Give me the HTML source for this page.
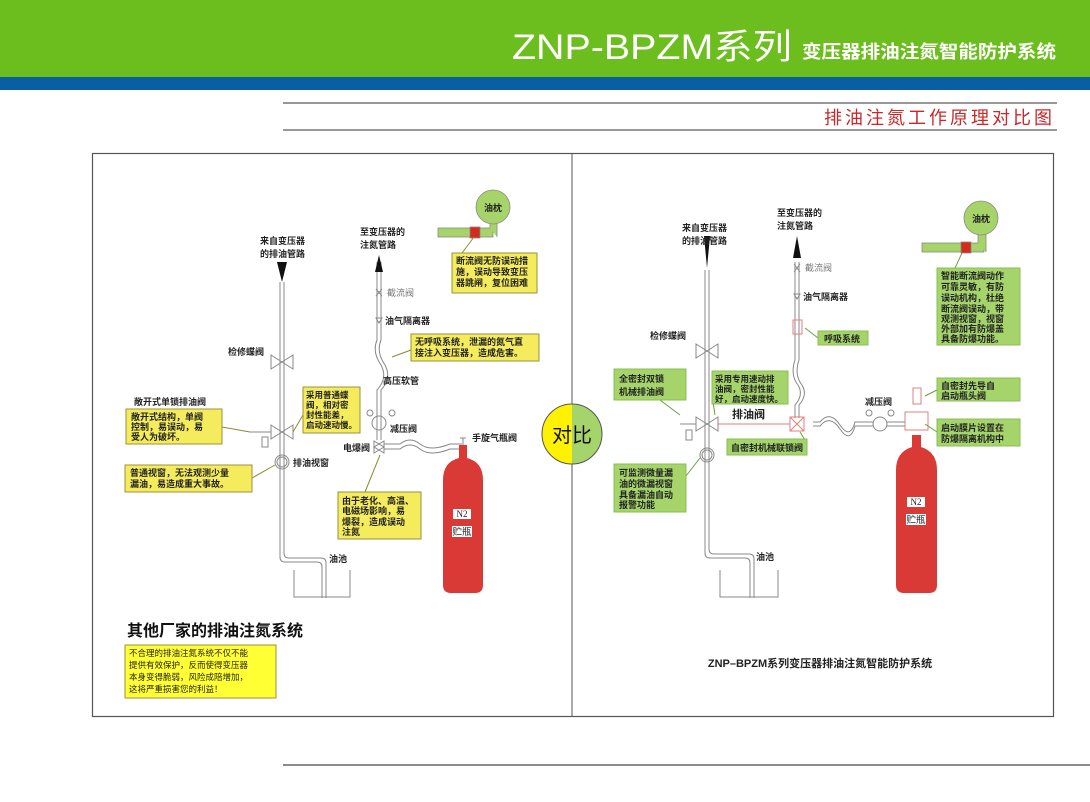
<!DOCTYPE html>
<html><head><meta charset="utf-8"><style>
html,body{margin:0;padding:0;background:#fff}
svg{display:block}
text{font-family:"Liberation Sans","Noto Sans CJK SC",sans-serif;fill:#222}
.s{font-size:9px;font-weight:bold}
.b{font-size:9.5px}
</style></head><body>
<svg width="1090" height="802" viewBox="0 0 1090 802" xmlns="http://www.w3.org/2000/svg">
<rect x="0" y="0" width="1090" height="77" fill="#6cbd1e"/>
<rect x="0" y="77" width="1090" height="13" fill="#0a5fa3"/>
<text x="512" y="59" textLength="280" lengthAdjust="spacingAndGlyphs" style="font-size:35px;fill:#fff">ZNP-BPZM系列</text>
<text x="802" y="58" textLength="254" lengthAdjust="spacingAndGlyphs" style="font-size:18px;fill:#fff;font-weight:bold">变压器排油注氮智能防护系统</text>
<line x1="283" y1="103" x2="1057" y2="103" stroke="#777" stroke-width="1.5"/>
<text x="1055" y="124" text-anchor="end" style="font-size:18px;fill:#c8282a;letter-spacing:3px">排油注氮工作原理对比图</text>
<line x1="283" y1="130" x2="1057" y2="130" stroke="#777" stroke-width="1.5"/>
<rect x="92.5" y="153.5" width="961" height="563" fill="none" stroke="#555" stroke-width="1.2"/>
<line x1="572" y1="153" x2="572" y2="716" stroke="#555"/>
<line x1="283" y1="765" x2="1090" y2="765" stroke="#666" stroke-width="1.5"/>

<g fill="none" stroke="#888" stroke-width="1">
<path d="M280 282 V557 Q280 562 285 562 H317 Q322 562 322 567 V598"/>
<path d="M284 282 V553 Q284 558 289 558 H321 Q326 558 326 563 V598"/>
<path d="M294 570 V597 H350 V570"/>
<path d="M271 355 L293 369 V355 L271 369 Z"/>
<path d="M271 425 L293 439 V425 L271 439 Z"/>
<circle cx="282" cy="462" r="7"/><circle cx="282" cy="462" r="5"/>
<path d="M250 432 H271"/><rect x="262" y="437" width="6" height="10"/>
<path d="M377 262 V340 Q372 352 381 365 Q388 378 377 390 V440"/>
<path d="M381 262 V340 Q376 352 385 365 Q392 378 381 390 V440"/>
<circle cx="379" cy="423" r="7"/><circle cx="370" cy="413" r="3"/><circle cx="392" cy="413" r="3"/>
<path d="M374 441 V453 L384 447 Z M384 441 V453 L374 447 Z"/>
<path d="M384 444 H400 Q410 436 420 444 T450 444 H462 M384 449 H400 Q410 441 420 449 T450 449 H462"/>
<path d="M376 289 L382 296 M382 289 L376 296"/>
<path d="M460 438 H466 M463 438 V445"/>
<path d="M705 270 V553 Q705 558 710 558 H745 Q750 558 750 563 V598"/>
<path d="M709 270 V549 Q709 554 714 554 H749 Q754 554 754 559 V598"/>
<path d="M720 570 V597 H778 V570"/>
<path d="M696 344 L718 358 V344 L696 358 Z"/>
<path d="M696 417 L718 431 V417 L696 431 Z"/>
<circle cx="707" cy="455" r="7"/><circle cx="707" cy="455" r="5"/>
<path d="M680 424 H696"/><rect x="686" y="430" width="6" height="10"/>
<path d="M795 262 V360 Q790 375 798 385 Q804 395 795 405 V418"/>
<path d="M799 262 V360 Q794 375 802 385 Q808 395 799 405 V418"/>
<circle cx="880" cy="424" r="7"/><circle cx="869" cy="413" r="3"/><circle cx="891" cy="413" r="3"/>
<path d="M813 422 H820 Q830 410 840 425 T855 422 H873 M813 426 H820 Q830 414 840 429 T855 426 H873 M887 422 H905 M887 426 H905"/>
<path d="M794 264 L800 272 M800 264 L794 272"/>
</g>
<g fill="none" stroke="#e08080" stroke-width="1">
<rect x="790" y="417" width="14" height="14"/><path d="M790 417 L804 431 M804 417 L790 431"/>
<path d="M718 424 H790"/>
<rect x="793" y="320" width="9" height="14"/>
<rect x="905" y="412" width="23" height="18"/>
<rect x="913" y="388" width="8" height="16"/>
</g>
<path d="M277 262 L287 262 L282 282 Z" fill="#111"/>
<path d="M379 255 L375 272 L383 272 Z" fill="#111"/>
<path d="M704 236 L710 236 L707 268 Z" fill="#111"/>
<path d="M797 236 L793 258 L801 258 Z" fill="#111"/>
<path d="M376 318 L382 318 L379 323 Z" fill="none" stroke="#888"/>
<path d="M794 294 L800 294 L797 299 Z" fill="none" stroke="#888"/>

<g stroke="#888" stroke-width="0.8">
<rect x="438" y="228" width="55" height="9" fill="#a6d468"/>
<path d="M490 228 V220 H497 V237" fill="#a6d468"/>
<circle cx="493" cy="207" r="17" fill="#a6d468"/>
<rect x="470" y="227" width="10" height="11" fill="#d52b1e"/>
<rect x="922" y="243" width="62" height="9" fill="#a6d468"/>
<path d="M978 243 V232 H986 V252" fill="#a6d468"/>
<circle cx="981" cy="218" r="17" fill="#a6d468"/>
<rect x="961" y="242" width="10" height="11" fill="#d52b1e"/>
</g>
<text x="493" y="211" text-anchor="middle" class="s">油枕</text>
<text x="981" y="222" text-anchor="middle" class="s">油枕</text>

<path d="M459 445 H467 V458 Q483 462 483 480 V585 Q483 593 475 593 H451 Q443 593 443 585 V480 Q443 462 459 458 Z" fill="#d93a36"/>
<path d="M912 435 H921 V447 Q937 452 937 470 V585 Q937 593 929 593 H904 Q896 593 896 585 V470 Q896 452 912 447 Z" fill="#d93a36"/>
<rect x="453" y="509" width="18" height="10" fill="#fff"/><text x="462" y="517" text-anchor="middle" style="font-size:9px;font-family:'Liberation Serif',serif">N2</text>
<rect x="452" y="526" width="20" height="11" fill="#fff"/><text x="462" y="535" text-anchor="middle" class="b">贮瓶</text>
<rect x="907" y="497" width="18" height="10" fill="#fff"/><text x="916" y="505" text-anchor="middle" style="font-size:9px;font-family:'Liberation Serif',serif">N2</text>
<rect x="906" y="514" width="20" height="11" fill="#fff"/><text x="916" y="523" text-anchor="middle" class="b">贮瓶</text>

<g stroke="#8a8a30" stroke-width="1" fill="none">
<path d="M474 237 L462 253 M222 427 L250 432 M303 415 L293 432 M252 478 L275 465 M411 350 L392 357 M365 492 L380 455"/>
</g>
<g stroke="#6aa040" stroke-width="1" fill="none">
<path d="M962 253 L955 268 M818 338 L805 328 M660 400 L680 415 M712 395 L715 415 M800 432 L805 440 M686 476 L700 458 M937 390 L925 396 M937 432 L925 424"/>
</g>

<g fill="#f4ec5c" stroke="#9a9040" stroke-width="1">
<rect x="452" y="253" width="85" height="40"/>
<rect x="411" y="334" width="128" height="27"/>
<rect x="303" y="387" width="57" height="46"/>
<rect x="126" y="409" width="96" height="35"/>
<rect x="125" y="465" width="127" height="27"/>
<rect x="338" y="492" width="83" height="47"/>
<rect x="125" y="645" width="151" height="53" fill="#ffff33"/>
</g>
<g class="s">
<text x="456" y="264">断流阀无防误动措</text><text x="456" y="275">施，误动导致变压</text><text x="456" y="286">器跳闸，复位困难</text>
<text x="415" y="345">无呼吸系统，泄漏的氮气直</text><text x="415" y="356">接注入变压器，造成危害。</text>
<g style="font-size:8.5px"><text x="306" y="398">采用普通蝶</text><text x="306" y="408">阀，相对密</text><text x="306" y="418">封性能差，</text><text x="306" y="428">启动速动慢。</text></g>
<text x="131" y="420">敞开式结构，单阀</text><text x="131" y="430">控制，易误动，易</text><text x="131" y="440">受人为破坏。</text>
<text x="130" y="476">普通视窗，无法观测少量</text><text x="130" y="487">漏油，易造成重大事故。</text>
<text x="342" y="504">由于老化、高温、</text><text x="342" y="514">电磁场影响，易</text><text x="342" y="525">爆裂，造成误动</text><text x="342" y="535">注氮</text>
</g>
<g style="font-size:8.5px">
<text x="129" y="656">不合理的排油注氮系统不仅不能</text><text x="129" y="668">提供有效保护，反而使得变压器</text><text x="129" y="680">本身变得脆弱，风险成陪增加，</text><text x="129" y="692">这将严重损害您的利益！</text>
</g>
<text x="127" y="636" style="font-size:16px;font-weight:bold;fill:#111">其他厂家的排油注氮系统</text>

<g class="s">
<text x="260" y="244">来自变压器</text><text x="260" y="257">的排油管路</text>
<text x="360" y="235">至变压器的</text><text x="360" y="248">注氮管路</text>
<text x="387" y="296" style="fill:#777;font-weight:normal">截流阀</text>
<text x="385" y="324">油气隔离器</text>
<text x="228" y="355">检修蝶阀</text>
<text x="383" y="384">高压软管</text>
<text x="134" y="405">敞开式单锁排油阀</text>
<text x="390" y="432">减压阀</text>
<text x="343" y="451">电爆阀</text>
<text x="472" y="441">手旋气瓶阀</text>
<text x="293" y="466">排油视窗</text>
<text x="329" y="562">油池</text>
</g>

<g fill="#a4d46a" stroke="#8cbc55" stroke-width="1">
<rect x="937" y="268" width="83" height="77"/>
<rect x="818" y="331" width="50" height="14"/>
<rect x="614" y="369" width="72" height="31"/>
<rect x="712" y="371" width="76" height="33"/>
<rect x="727" y="439" width="80" height="16"/>
<rect x="614" y="464" width="72" height="48"/>
<rect x="937" y="378" width="83" height="23"/>
<rect x="937" y="419" width="83" height="27"/>
</g>
<g class="s">
<text x="941" y="279">智能断流阀动作</text><text x="941" y="290">可靠灵敏，有防</text><text x="941" y="301">误动机构，杜绝</text><text x="941" y="312">断流阀误动，带</text><text x="941" y="322">观测视窗，视窗</text><text x="941" y="332">外部加有防爆盖</text><text x="941" y="342">具备防爆功能。</text>
<text x="824" y="342">呼吸系统</text>
<text x="619" y="382">全密封双锁</text><text x="619" y="395">机械排油阀</text>
<g style="font-size:8.5px"><text x="715" y="382">采用专用速动排</text><text x="715" y="392">油阀，密封性能</text><text x="715" y="402">好，启动速度快。</text></g>
<text x="731" y="451">自密封机械联锁阀</text>
<text x="619" y="476">可监测微量漏</text><text x="619" y="487">油的微漏视窗</text><text x="619" y="498">具备漏油自动</text><text x="619" y="508">报警功能</text>
<text x="941" y="389">自密封先导自</text><text x="941" y="399">启动瓶头阀</text>
<text x="941" y="431">启动膜片设置在</text><text x="941" y="442">防爆隔离机构中</text>
<text x="682" y="231">来自变压器</text><text x="682" y="244">的排油管路</text>
<text x="777" y="216">至变压器的</text><text x="777" y="229">注氮管路</text>
<text x="805" y="271" style="fill:#777;font-weight:normal">截流阀</text>
<text x="803" y="300">油气隔离器</text>
<text x="650" y="339">检修蝶阀</text>
<text x="732" y="418" style="font-size:11px">排油阀</text>
<text x="865" y="405">减压阀</text>
<text x="756" y="560">油池</text>
</g>
<text x="820" y="667" text-anchor="middle" style="font-size:11px;font-weight:bold">ZNP–BPZM系列变压器排油注氮智能防护系统</text>

<path d="M572 404 A30 30 0 0 0 572 464 Z" fill="#fff200"/>
<path d="M572 404 A30 30 0 0 1 572 464 Z" fill="#a4d46a"/>
<circle cx="572" cy="434" r="30" fill="none" stroke="#555"/>
<text x="572" y="442" text-anchor="middle" style="font-size:20px;fill:#111">对比</text>
</svg>
</body></html>
